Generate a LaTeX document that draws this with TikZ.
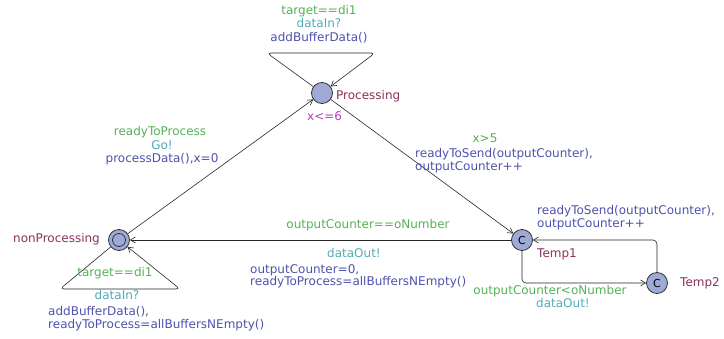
\documentclass[tikz,border=0pt]{standalone}
\usepackage{fontspec}
\setmainfont{DejaVu Sans}
\usetikzlibrary{arrows.meta}
\definecolor{guardc}{RGB}{85,178,85}
\definecolor{syncc}{RGB}{80,172,182}
\definecolor{updc}{RGB}{78,82,172}
\definecolor{namec}{RGB}{140,48,92}
\definecolor{invc}{RGB}{182,62,182}
\definecolor{locfill}{RGB}{160,170,215}
\begin{document}
\begin{tikzpicture}[x=1pt,y=-1pt,
  font=\fontsize{12}{14}\selectfont,
  loc/.style={circle, draw=black!80, fill=locfill, minimum size=21pt, inner sep=0pt, line width=0.8pt},
  inner/.style={circle, draw=black!80, minimum size=13pt, inner sep=0pt, line width=0.8pt},
  edge/.style={draw=black!85, line width=0.6pt, -{Straight Barb[length=5pt,width=6pt]}, rounded corners=4pt},
  lw/.style={inner sep=0pt, anchor=mid west},
  lc/.style={inner sep=0pt, anchor=mid},
  le/.style={inner sep=0pt, anchor=mid east},
  guard/.style={text=guardc},
  sync/.style={text=syncc},
  upd/.style={text=updc},
  lname/.style={text=namec},
  inv/.style={text=invc}]
\useasboundingbox (0,0) rectangle (724,338);

% locations
\node[loc] (proc) at (322,93) {};
\node[loc] (np) at (119,240) {};
\node[inner] (npin) at (119,240) {};
\node[loc, font=\fontsize{11}{12}\selectfont] (t1) at (522,240) {C};
\node[loc, font=\fontsize{11}{12}\selectfont] (t2) at (657,283) {C};

% location labels
\node[lw, lname] (procname) at (336,97) {Processing};
\node[lw, inv] (procinv) at (307,118) {x<=6};
\node[le, lname] (npname) at (100,240) {nonProcessing};
\node[lw, lname] (t1name) at (537,255) {Temp1};
\node[lw, lname] (t2name) at (680,284) {Temp2};

% self loop on Processing
\coordinate (pl1) at (267,53);
\coordinate (pl2) at (375,53);
\draw[edge] (proc) -- (pl1) -- (pl2) -- (proc);
\node[lc, guard] (pg) at (319,12) {target==di1};
\node[lc, sync] (ps) at (319,25) {dataIn?};
\node[lc, upd] (pu) at (319,39) {addBufferData()};

% self loop on nonProcessing
\coordinate (nl1) at (60,289);
\coordinate (nl2) at (180,289);
\draw[edge] (np) -- (nl1) -- (nl2) -- (np);
\node[lc, guard] (ng) at (115,274) {target==di1};
\node[lc, sync] (ns) at (117,297) {dataIn?};
\node[lw, upd] (nu1) at (48,313) {addBufferData(),};
\node[lw, upd] (nu2) at (48,326) {readyToProcess=allBuffersNEmpty()};

% nonProcessing -> Processing
\draw[edge] (np) -- (proc);
\node[lc, guard] (ag) at (160,133) {readyToProcess};
\node[lc, sync] (as) at (162,147) {Go!};
\node[lc, upd] (au) at (162,160) {processData(),x=0};

% Processing -> Temp1
\draw[edge] (proc) -- (t1);
\node[lc, guard] (bg) at (485,140) {x>5};
\node[lw, upd] (bu1) at (415,155) {readyToSend(outputCounter),};
\node[lw, upd] (bu2) at (415,168) {outputCounter++};

% Temp1 -> nonProcessing
\draw[edge] (t1) -- (np);
\node[lc, guard] (cg) at (368,226) {outputCounter==oNumber};
\node[lc, sync] (cs) at (354,255) {dataOut!};
\node[lw, upd] (cu1) at (250,271) {outputCounter=0,};
\node[lw, upd] (cu2) at (250,283) {readyToProcess=allBuffersNEmpty()};

% Temp1 -> Temp2
\draw[edge] (t1) |- (t2);
\node[lc, guard] (dg) at (550,292) {outputCounter<oNumber};
\node[lc, sync] (ds) at (563,305) {dataOut!};

% Temp2 -> Temp1
\draw[edge] (t2) |- (t1);
\node[lw, upd] (eu1) at (537,212) {readyToSend(outputCounter),};
\node[lw, upd] (eu2) at (537,225) {outputCounter++};
\end{tikzpicture}
\end{document}
